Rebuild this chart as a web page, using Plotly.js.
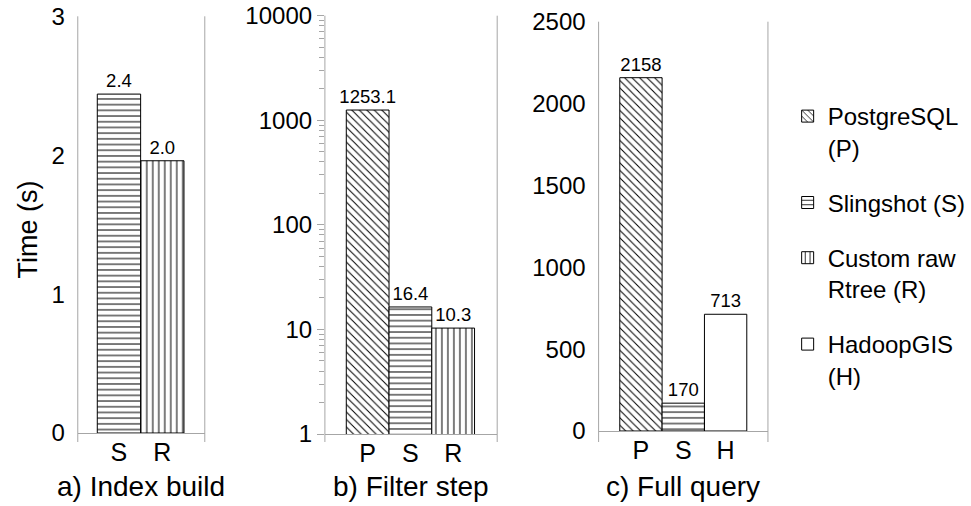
<!DOCTYPE html>
<html><head><meta charset="utf-8">
<script src="https://cdn.plot.ly/plotly-3.0.1.min.js"></script>
<style>html,body{margin:0;padding:0;background:#fff}</style>
</head><body><div id="chart" style="width:971px;height:506px"></div>
<script>
// ---- data ----
const seriesKeys = ['P', 'S', 'R', 'H'];
const seriesNames = ['PostgreSQL<br>(P)', 'Slingshot (S)', 'Custom raw<br>Rtree (R)', 'HadoopGIS<br>(H)'];
const panelTitles = ['a) Index build', 'b) Filter step', 'c) Full query'];
const yTitle = 'Time (s)';
const catsA = ['S', 'R'];
const valsA = [2.44, 1.96];
const catsB = ['P', 'S', 'R'];
const valsB = [1253.1, 16.4, 10.3];
const catsC = ['P', 'S', 'H'];
const valsC = [2158, 170, 713];

// ---- styling ----
const W = 971, H = 506;
const px = v => v / W;
const py = v => 1 - v / H;
const FONT = 'Liberation Sans, Arial, Helvetica, sans-serif';
const AX = '#a6a6a6', GRID = '#c4c4c4';
const patterns = {
  P: {shape: '\\', size: 5.3, solidity: 0.19},
  S: {shape: '-', size: 5.7, solidity: 0.18},
  R: {shape: '|', size: 6, solidity: 0.17},
  H: {shape: '', size: 6, solidity: 0.2}
};
const panels = [
  {cats: catsA, vals: valsA, xa: 'x', ya: 'y', fmt: '%{y:.1f}', xd: [79, 208], yd: [433, 16.3]},
  {cats: catsB, vals: valsB, xa: 'x2', ya: 'y2', fmt: '%{y:.1f}', xd: [330, 505], yd: [434, 15.7]},
  {cats: catsC, vals: valsC, xa: 'x3', ya: 'y3', fmt: '%{y:.0f}', xd: [608, 780], yd: [431, 21.7]}
];

const traces = [];
const shown = {};
seriesKeys.forEach((k, si) => {
  panels.forEach(p => {
    const i = p.cats.indexOf(k);
    if (i < 0) return;
    const pat = patterns[k];
    traces.push({
      type: 'bar', x: [p.cats[i]], y: [p.vals[i]], xaxis: p.xa, yaxis: p.ya,
      name: seriesNames[si], legendgroup: k, showlegend: !shown[k],
      width: 1, texttemplate: p.fmt, textposition: 'outside', constraintext: 'none',
      cliponaxis: false, outsidetextfont: {size: 18.5, color: '#000', family: FONT},
      marker: {
        color: k === 'H' ? 'rgba(255,255,255,0)' : '#fff',
        line: {color: '#000', width: 1},
        pattern: {shape: pat.shape, size: pat.size, solidity: pat.solidity, fgcolor: '#000',
                  bgcolor: k === 'H' ? 'rgba(255,255,255,0)' : '#fff', fillmode: 'replace'}
      },
      hoverinfo: 'skip'
    });
    shown[k] = true;
  });
});

function xAxis(p, range, yid) {
  return {
    domain: [px(p.xd[0]), px(p.xd[1])], anchor: yid, type: 'category',
    categoryorder: 'array', categoryarray: p.cats, range: range,
    showline: true, linecolor: AX, linewidth: 1, ticks: '', showgrid: false, zeroline: false,
    tickfont: {size: 25, color: '#000', family: FONT}, ticklabelstandoff: -3, fixedrange: true
  };
}
function yDomain(p) { return [py(p.yd[0]), py(p.yd[1])]; }

// minor tick positions for the log axis (2..9 in each decade)
const logMinor = [];
for (let d = 1; d < 10000; d *= 10) for (let m = 2; m <= 9; m++) logMinor.push(m * d);

const layout = {
  width: W, height: H, margin: {l: 0, r: 0, t: 0, b: 0},
  paper_bgcolor: '#fff', plot_bgcolor: 'rgba(0,0,0,0)',
  font: {family: FONT, color: '#000'},
  barmode: 'overlay', bargap: 0,
  showlegend: true,
  legend: {x: px(800), y: py(94), xanchor: 'left', yanchor: 'top', font: {size: 24, family: FONT, color: '#000'},
           traceorder: 'grouped', tracegroupgap: 21, valign: 'top', bgcolor: 'rgba(0,0,0,0)'},
  xaxis: xAxis(panels[0], [-0.95, 1.98], 'y'),
  xaxis2: xAxis(panels[1], [-1, 3.03], 'y2'),
  xaxis3: xAxis(panels[2], [-1, 3], 'y3'),
  yaxis: {domain: yDomain(panels[0]), anchor: 'x', range: [0, 3], tickvals: [0, 1, 2, 3],
          showgrid: false, zeroline: false, showline: false, ticks: '',
          tickfont: {size: 24, color: '#000', family: FONT}, ticklabelstandoff: 12, fixedrange: true},
  yaxis2: {domain: yDomain(panels[1]), anchor: 'x2', type: 'log', range: [0, 4],
           tickvals: [1, 10, 100, 1000, 10000], tickformat: 'd',
           showgrid: false, zeroline: false, showline: false,
           ticks: 'outside', ticklen: 7, tickcolor: AX, tickwidth: 1,
           minor: {tickmode: 'array', tickvals: logMinor, ticks: 'outside', ticklen: 5, tickcolor: AX, tickwidth: 1, showgrid: false},
           tickfont: {size: 24, color: '#000', family: FONT}, ticklabelstandoff: 0, fixedrange: true},
  yaxis3: {domain: yDomain(panels[2]), anchor: 'x3', range: [0, 2500], dtick: 500, tick0: 0,
           showgrid: false, zeroline: false, showline: false, ticks: '',
           tickfont: {size: 24, color: '#000', family: FONT}, ticklabelstandoff: 12, fixedrange: true},
  // gridline-only overlay axes
  yaxis4: {overlaying: 'y', anchor: 'x', range: [0, 3], tickvals: [1, 2], showgrid: true, gridcolor: GRID,
           gridwidth: 1, showticklabels: false, ticks: '', zeroline: false, showline: false, fixedrange: true},
  yaxis5: {overlaying: 'y2', anchor: 'x2', type: 'log', range: [0, 4], tickvals: [10, 100, 1000], showgrid: true,
           gridcolor: GRID, gridwidth: 1, showticklabels: false, ticks: '', zeroline: false, showline: false, fixedrange: true},
  yaxis6: {overlaying: 'y3', anchor: 'x3', range: [0, 2500], tickvals: [500, 1000, 1500, 2000], showgrid: true,
           gridcolor: GRID, gridwidth: 1, showticklabels: false, ticks: '', zeroline: false, showline: false, fixedrange: true},
  yaxis7: {overlaying: 'y3', anchor: 'x3', side: 'right', range: [0, 2500], tickmode: 'linear', tick0: 250, dtick: 500,
           ticks: 'inside', ticklen: 6, tickcolor: AX, tickwidth: 1, showticklabels: false, showgrid: false,
           zeroline: false, showline: false, fixedrange: true},
  shapes: [],
  annotations: []
};

panels.forEach((p, i) => {
  const xd = p.xa + ' domain';
  [0, 1].forEach(e => layout.shapes.push({
    type: 'line', xref: xd, x0: e, x1: e, yref: 'paper', y0: py(442), y1: py(p.yd[1]),
    line: {color: AX, width: 1}
  }));
  layout.annotations.push({
    text: panelTitles[i], xref: xd, x: 0.5, xanchor: 'center', yref: 'paper', y: py(486), yanchor: 'middle',
    showarrow: false, font: {size: 28, family: FONT, color: '#000'}
  });
});
layout.annotations.push({
  text: yTitle, xref: 'paper', x: px(28), xanchor: 'center', yref: 'paper', y: py(230), yanchor: 'middle',
  textangle: -90, showarrow: false, font: {size: 27, family: FONT, color: '#000'}
});

Plotly.newPlot('chart', traces, layout, {displayModeBar: false, staticPlot: true});
</script>
</body></html>
